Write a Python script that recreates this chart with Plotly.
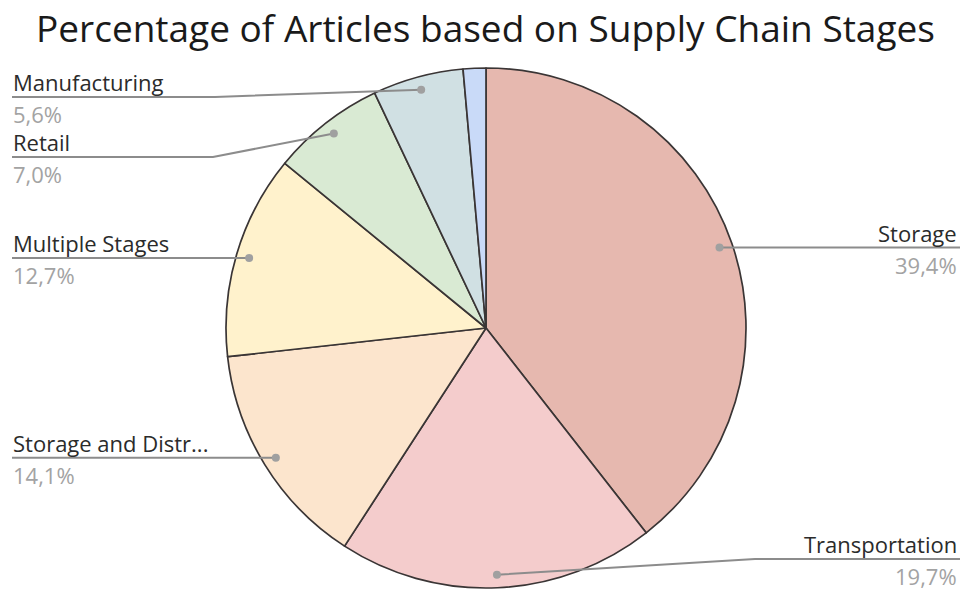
import math
import plotly.graph_objects as go

# Article counts per supply chain stage (clockwise from 12 o'clock)
stages = ["Storage", "Transportation", "Storage and Distr...", "Multiple Stages",
          "Retail", "Manufacturing", "Other"]
articles = [28, 14, 10, 9, 5, 4, 1]
colors = ["#E6B8AF", "#F4CCCC", "#FCE5CD", "#FFF2CC", "#D9EAD3", "#D0E0E3", "#C9DAF8"]

W, H = 965, 590
FONT = "Open Sans"

# Pie placement in pixels
CX, CY, R = 486, 328, 260
dom_x = [(CX - R) / W, (CX + R) / W]
dom_y = [1 - (CY + R) / H, 1 - (CY - R) / H]

# Callout layout: side, y of the label rule, x of the elbow (None = straight)
callouts = {
    "Storage": ("right", None, None),
    "Transportation": ("right", 559, 755),
    "Storage and Distr...": ("left", None, None),
    "Multiple Stages": ("left", None, None),
    "Retail": ("left", 157, 213),
    "Manufacturing": ("left", 97, 215),
}
LEFT_X, RIGHT_X = 12, 960
LINE_COLOR = "#8c8c8c"
DOT_COLOR = "#a0a0a0"

fig = go.Figure()
fig.add_trace(go.Pie(
    labels=stages, values=articles, sort=False, direction="clockwise", rotation=0,
    marker=dict(colors=colors, line=dict(color="#3a3535", width=1.7)),
    textinfo="none", hoverinfo="label+percent", showlegend=False,
    domain=dict(x=dom_x, y=dom_y),
))

# Hidden pixel-unit axes for callouts
fig.add_trace(go.Scatter(x=[0, W], y=[0, H], mode="markers",
                         marker=dict(opacity=0), hoverinfo="skip", showlegend=False))

total = sum(articles)
cum = 0.0
shapes, annotations = [], []
for name, val in zip(stages, articles):
    frac = val / total
    mid = (cum + frac / 2) * 2 * math.pi
    cum += frac
    if name not in callouts:
        continue
    side, row_y, elbow_x = callouts[name]
    rr = 0.95 * R
    dx = CX + rr * math.sin(mid)
    dy = CY - rr * math.cos(mid)
    if row_y is None:
        row_y = dy
    end_x = LEFT_X if side == "left" else RIGHT_X
    pts = [(dx, dy)]
    if elbow_x is not None:
        pts.append((elbow_x, row_y))
    else:
        pts.append((dx, row_y))
    pts.append((end_x, row_y))
    path = "M " + " L ".join(f"{px},{py}" for px, py in pts)
    shapes.append(dict(type="path", path=path, xref="x", yref="y",
                       line=dict(color=LINE_COLOR, width=2)))
    shapes.append(dict(type="circle", xref="x", yref="y",
                       x0=dx - 4, x1=dx + 4, y0=dy - 4, y1=dy + 4,
                       fillcolor=DOT_COLOR, line=dict(width=0)))
    pct = f"{frac * 100:.1f}%".replace(".", ",")
    anchor = "left" if side == "left" else "right"
    tx = LEFT_X if side == "left" else RIGHT_X - 2
    annotations.append(dict(x=tx, y=row_y, xref="x", yref="y", text=name,
                            showarrow=False, xanchor=anchor, yanchor="bottom",
                            borderpad=0, yshift=-1,
                            font=dict(family=FONT, size=22, color="#2b2b2b")))
    annotations.append(dict(x=tx, y=row_y, xref="x", yref="y", text=pct,
                            showarrow=False, xanchor=anchor, yanchor="top",
                            borderpad=0, yshift=-1,
                            font=dict(family=FONT, size=22, color="#a3a3a3")))

annotations.append(dict(x=0.503, y=1 - 27 / H, xref="paper", yref="paper",
                        text="Percentage of Articles based on Supply Chain Stages",
                        showarrow=False, xanchor="center", yanchor="middle",
                        font=dict(family=FONT, size=37, color="#1a1a1a")))

fig.update_layout(
    width=W, height=H, margin=dict(l=0, r=0, t=0, b=0),
    paper_bgcolor="white", plot_bgcolor="rgba(0,0,0,0)",
    xaxis=dict(range=[0, W], visible=False, fixedrange=True, domain=[0, 1]),
    yaxis=dict(range=[H, 0], visible=False, fixedrange=True, domain=[0, 1]),
    shapes=shapes, annotations=annotations,
)

fig.write_html("out.html")
